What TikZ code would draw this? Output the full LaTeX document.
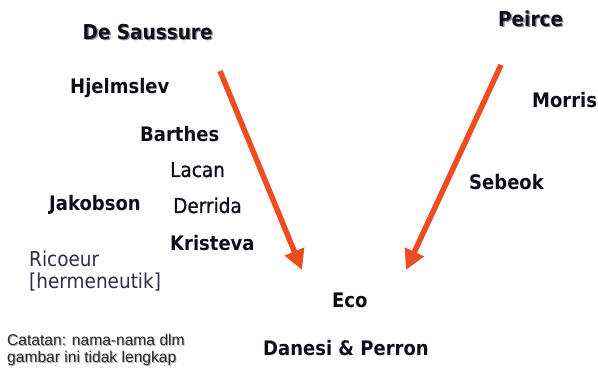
\documentclass[tikz,border=0pt]{standalone}
\usepackage{fontspec}
\setmainfont{DejaVu Sans}[FakeStretch=0.9]
\newfontfamily\medfont{DejaVu Sans}[FakeStretch=0.9,FakeBold=0.9]
\newfontfamily\notefont{Liberation Sans}
\usetikzlibrary{arrows.meta}
\definecolor{arrowred}{RGB}{240,76,36}
\definecolor{namecol}{RGB}{14,14,26}
\definecolor{softcol}{RGB}{45,45,70}
\begin{document}
\begin{tikzpicture}[x=1pt,y=-1pt,
  boldname/.style={anchor=base west,inner sep=0pt,text=namecol,font=\fontsize{20}{24}\selectfont\bfseries},
  plainname/.style={anchor=base west,inner sep=0pt,text=namecol,font=\medfont\fontsize{20.5}{24}\selectfont},
  softname/.style={anchor=base west,inner sep=0pt,text=softcol,font=\fontsize{20.5}{24}\selectfont},
  headname/.style={boldname,font=\fontsize{20.5}{24}\selectfont\bfseries},
  headshade/.style={headname,text=black!45},
  notetext/.style={anchor=base west,inner sep=0pt,text=black!85,align=left,
    font=\notefont\fontsize{15.6}{17}\selectfont},
  noteshade/.style={notetext,text=black!30},
  flow/.style={line width=5.5pt,draw=arrowred,-{Triangle[width=20pt,length=20pt]}}]
\useasboundingbox (0,0) rectangle (598,387);

% founders, with a soft drop shadow
\node[headshade] at (83.8,41) {De Saussure};
\node[headname] (saussure) at (82.5,40) {De Saussure};
\node[headshade] at (499.3,28) {Peirce};
\node[headname] (peirce) at (498,27) {Peirce};

% the Saussurean line
\node[boldname]  (hjelmslev) at (70,94)  {Hjelmslev};
\node[boldname]  (barthes)   at (140,142) {Barthes};
\node[plainname] (lacan)     at (170,177) {Lacan};
\node[boldname]  (jakobson)  at (49,211) {Jakobson};
\node[plainname] (derrida)   at (173,213) {Derrida};
\node[boldname]  (kristeva)  at (170,251) {Kristeva};
\node[softname]  (ricoeur)   at (29,267) {Ricoeur};
\node[softname]  (herm)      at (29,289) {[hermeneutik]};

% the Peircean line
\node[boldname] (morris) at (532,108) {Morris};
\node[boldname] (sebeok) at (469,190) {Sebeok};

% where both meet
\node[boldname] (eco)    at (332,308) {Eco};
\node[boldname] (danesi) at (263,356) {Danesi \& Perron};

% note
\node[noteshade] at (8,364) {Catatan: nama-nama dlm\\gambar ini tidak lengkap};
\node[notetext] (note) at (7,363) {Catatan: nama-nama dlm\\gambar ini tidak lengkap};

% arrows
\coordinate (s0) at (220,71);
\coordinate (s1) at (302,270);
\coordinate (p0) at (501,65);
\coordinate (p1) at (406,270);
\draw[flow] (s0) -- (s1);
\draw[flow] (p0) -- (p1);
\end{tikzpicture}
\end{document}
